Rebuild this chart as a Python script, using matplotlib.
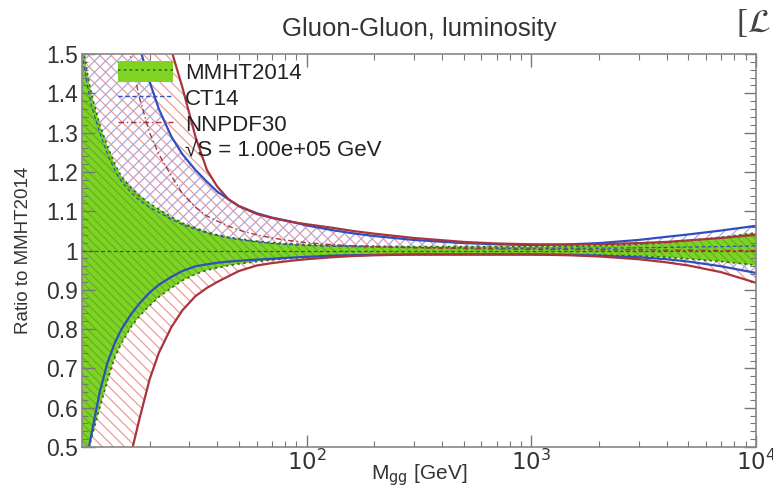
import numpy as np
import matplotlib.pyplot as plt
from matplotlib.patches import Patch
from matplotlib.lines import Line2D
from matplotlib.ticker import FixedLocator, MultipleLocator, LogLocator, NullFormatter

plt.rcParams['font.family'] = ['Liberation Sans', 'DejaVu Sans']
plt.rcParams['hatch.linewidth'] = 0.9

# invariant mass grid [GeV]
mass = [10, 10.5, 11, 12, 13, 14, 15, 16.5, 18, 20, 22, 25, 28, 32, 36, 40, 45, 50, 60, 70,
        85, 100, 130, 160, 200, 300, 500, 700, 1000, 1500, 2000, 3000, 4000, 5000, 7000, 10000]

# MMHT2014 band (ratio to its own central value)
mmht_up = [1.54, 1.46, 1.40, 1.32, 1.265, 1.22, 1.188, 1.16, 1.14, 1.12,
           1.105, 1.085, 1.07, 1.058, 1.047, 1.04, 1.034, 1.03, 1.024, 1.02,
           1.017, 1.015, 1.013, 1.012, 1.011, 1.01, 1.01, 1.01, 1.01, 1.011,
           1.012, 1.016, 1.02, 1.025, 1.034, 1.045]
mmht_lo = [0.44, 0.48, 0.52, 0.60, 0.67, 0.728, 0.765, 0.805, 0.833, 0.86,
           0.882, 0.905, 0.924, 0.94, 0.95, 0.956, 0.962, 0.966, 0.972, 0.976,
           0.98, 0.983, 0.986, 0.988, 0.989, 0.99, 0.99, 0.99, 0.99, 0.99,
           0.989, 0.986, 0.983, 0.979, 0.972, 0.963]
mmht_c = [1.0] * len(mass)

# CT14
ct14_up = [2.7, 2.55, 2.4, 2.15, 1.98, 1.84, 1.74, 1.6, 1.52, 1.43,
           1.36, 1.29, 1.245, 1.205, 1.175, 1.15, 1.13, 1.113, 1.095, 1.084,
           1.074, 1.064, 1.052, 1.044, 1.037, 1.027, 1.019, 1.016, 1.014, 1.016,
           1.019, 1.027, 1.035, 1.041, 1.051, 1.063]
ct14_lo = [0.40, 0.47, 0.53, 0.64, 0.715, 0.765, 0.80, 0.837, 0.865, 0.893,
           0.913, 0.933, 0.948, 0.96, 0.965, 0.969, 0.972, 0.974, 0.977, 0.979,
           0.982, 0.984, 0.987, 0.988, 0.989, 0.99, 0.99, 0.99, 0.99, 0.989,
           0.987, 0.983, 0.978, 0.972, 0.96, 0.943]
ct14_c = [1.5, 1.43, 1.37, 1.30, 1.245, 1.205, 1.175, 1.148, 1.128, 1.11,
          1.097, 1.08, 1.066, 1.054, 1.045, 1.038, 1.032, 1.028, 1.022, 1.018,
          1.015, 1.013, 1.011, 1.01, 1.009, 1.008, 1.007, 1.006, 1.006, 1.006,
          1.006, 1.007, 1.008, 1.009, 1.01, 1.012]

# NNPDF30
nnpdf_up = [3.2, 3.0, 2.9, 2.7, 2.5, 2.35, 2.2, 2.05, 1.9, 1.75,
            1.64, 1.51, 1.415, 1.29, 1.205, 1.163, 1.13, 1.113, 1.093, 1.083,
            1.073, 1.067, 1.058, 1.05, 1.043, 1.032, 1.022, 1.018, 1.016, 1.015,
            1.016, 1.019, 1.022, 1.026, 1.032, 1.04]
nnpdf_lo = [0.05, 0.08, 0.11, 0.17, 0.23, 0.30, 0.37, 0.48, 0.57, 0.672,
            0.74, 0.805, 0.848, 0.884, 0.905, 0.92, 0.935, 0.948, 0.962, 0.968,
            0.974, 0.978, 0.983, 0.986, 0.988, 0.99, 0.99, 0.99, 0.99, 0.988,
            0.985, 0.978, 0.97, 0.962, 0.945, 0.918]
nnpdf_c = [2.5, 2.35, 2.2, 2.0, 1.85, 1.72, 1.62, 1.49, 1.39, 1.30,
           1.245, 1.19, 1.145, 1.11, 1.088, 1.075, 1.062, 1.052, 1.04, 1.032,
           1.025, 1.02, 1.015, 1.012, 1.01, 1.007, 1.005, 1.004, 1.003, 1.003,
           1.002, 1.002, 1.001, 1.001, 1.0, 1.0]

yticks = [0.5, 0.6, 0.7, 0.8, 0.9, 1.0, 1.1, 1.2, 1.3, 1.4, 1.5]
ytick_labels = ['0.5', '0.6', '0.7', '0.8', '0.9', '1', '1.1', '1.2', '1.3', '1.4', '1.5']
xticks = [100, 1000, 10000]
xtick_labels = ['$10^2$', '$10^3$', '$10^4$']

green = '#7fd323'
dgreen = '#2f6e18'
blue = '#2f4fc0'
red = '#a8343c'

fig = plt.figure(figsize=(7.73, 4.87), dpi=100)
ax = fig.add_axes([0.106, 0.082, 0.872, 0.807])

# hatched bands first, the green MMHT band sits on top
ax.fill_between(mass, nnpdf_lo, nnpdf_up, facecolor='none', edgecolor='#ee9a9a',
                hatch='\\\\\\', linewidth=0)
ax.fill_between(mass, ct14_lo, ct14_up, facecolor='none', edgecolor='#a8a8e4',
                hatch='///', linewidth=0)
ax.fill_between(mass, mmht_lo, mmht_up, facecolor=green, edgecolor='#62b322',
                hatch='\\\\\\\\', linewidth=0)

ax.plot(mass, mmht_up, color=dgreen, lw=1.2, ls=(0, (1.5, 2)))
ax.plot(mass, mmht_lo, color=dgreen, lw=1.2, ls=(0, (1.5, 2)))
ax.plot(mass, mmht_c, color='#2a6a1a', lw=0.9, ls=(0, (3, 2)))

ax.plot(mass, ct14_up, color=blue, lw=1.6)
ax.plot(mass, ct14_lo, color=blue, lw=1.6)
ax.plot(mass, ct14_c, color=blue, lw=0.9, ls=(0, (3, 2)))

ax.plot(mass, nnpdf_up, color=red, lw=1.6)
ax.plot(mass, nnpdf_lo, color=red, lw=1.6)
ax.plot(mass, nnpdf_c, color=red, lw=1.0, ls=(0, (4, 2, 1, 2)))

ax.set_xscale('log')
ax.set_xlim(10, 1e4)
ax.set_ylim(0.5, 1.5)

ax.xaxis.set_major_locator(FixedLocator(xticks))
ax.xaxis.set_minor_locator(LogLocator(base=10, subs=np.arange(2, 10)))
ax.xaxis.set_minor_formatter(NullFormatter())
ax.set_xticklabels(xtick_labels)
ax.yaxis.set_major_locator(FixedLocator(yticks))
ax.yaxis.set_minor_locator(MultipleLocator(0.02))
ax.set_yticklabels(ytick_labels)

ax.tick_params(which='both', direction='in', top=True, right=True, colors='#777777',
               labelcolor='#333333', labelsize=16.5)
ax.tick_params(which='major', length=9, width=1)
ax.tick_params(which='minor', length=4.5, width=0.8)
ax.tick_params(axis='x', pad=2)
ax.tick_params(axis='y', pad=3)
for s in ax.spines.values():
    s.set_color('#888888')
    s.set_linewidth(1.2)

ax.set_title('Gluon-Gluon, luminosity', fontsize=18.5, color='#333333', pad=13)
ax.set_xlabel('M$_{\\rm gg}$ [GeV]', fontsize=15, color='#333333', va='center')
ax.xaxis.set_label_coords(0.5, -0.072)
ax.set_ylabel('Ratio to MMHT2014', fontsize=13.5, color='#333333', labelpad=10)

handles = [(Patch(facecolor=green, edgecolor='none'),
            Line2D([], [], color=dgreen, lw=1.2, ls=(0, (1.5, 2)))),
           Line2D([], [], color=blue, lw=1.0, ls=(0, (3, 2))),
           Line2D([], [], color=red, lw=1.0, ls=(0, (4, 2, 1, 2))),
           Line2D([], [], color='none')]
labels = ['MMHT2014', 'CT14', 'NNPDF30', '\u221aS = 1.00e+05 GeV']
ax.legend(handles, labels, loc='upper left', bbox_to_anchor=(0.041, 1.005), frameon=False,
          fontsize=16, handlelength=2.45, handleheight=1.1, handletextpad=0.55,
          labelspacing=0.12, borderaxespad=0, labelcolor='#222222')

fig.text(0.952, 0.935, '[$\\mathcal{L}$', fontsize=24, family='Liberation Serif', color='#444444')

fig.savefig('out.png', dpi=100)
